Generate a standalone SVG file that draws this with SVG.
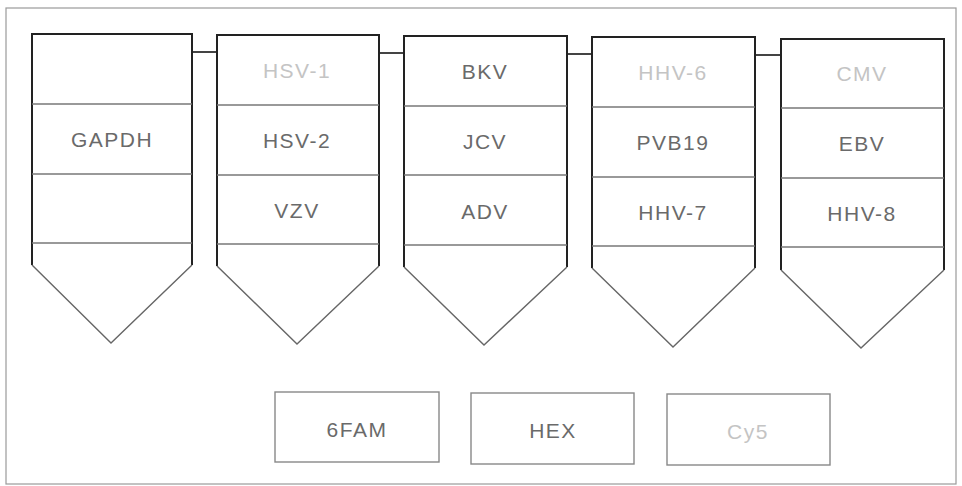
<svg xmlns="http://www.w3.org/2000/svg" width="962" height="486" viewBox="0 0 962 486">
<style>
.frame{fill:none;stroke:#9a9a9a;stroke-width:1.2}
.side{fill:none;stroke:#222;stroke-width:2}
.div{fill:none;stroke:#777;stroke-width:1.3}
.vee{fill:none;stroke:#666;stroke-width:1.4}
.box{fill:#fff;stroke:#888;stroke-width:1.4}
.conn{fill:none;stroke:#444;stroke-width:2}
text{font-family:"Liberation Sans",Arial,sans-serif;font-size:21px;letter-spacing:1.5px;text-anchor:middle;fill:#6a6a6a}
text.faint{fill:#c4c4c4}
</style>
<rect width="962" height="486" fill="#fff"/>
<rect class="frame" x="6" y="8" width="950" height="476"/>
<g id="connectors">
<line class="conn" x1="192" y1="52" x2="217" y2="52"/>
<line class="conn" x1="379" y1="53" x2="404" y2="53"/>
<line class="conn" x1="567" y1="54" x2="592" y2="54"/>
<line class="conn" x1="755" y1="55" x2="781" y2="55"/>
</g>
<g id="col1">
<path class="side" d="M32,265 V34 H192 V265"/>
<line class="div" x1="32" y1="104" x2="192" y2="104"/>
<line class="div" x1="32" y1="174" x2="192" y2="174"/>
<line class="div" x1="32" y1="243" x2="192" y2="243"/>
<path class="vee" d="M32,265 L111,343 L192,265"/>
<text x="112" y="147">GAPDH</text>
</g>
<g id="col2">
<path class="side" d="M217,266 V35 H379 V266"/>
<line class="div" x1="217" y1="105" x2="379" y2="105"/>
<line class="div" x1="217" y1="175" x2="379" y2="175"/>
<line class="div" x1="217" y1="244" x2="379" y2="244"/>
<path class="vee" d="M217,266 L297,344 L379,266"/>
<text class="faint" x="297" y="78">HSV-1</text>
<text x="297" y="148">HSV-2</text>
<text x="297" y="218">VZV</text>
</g>
<g id="col3">
<path class="side" d="M404,267 V36 H567 V267"/>
<line class="div" x1="404" y1="106" x2="567" y2="106"/>
<line class="div" x1="404" y1="175" x2="567" y2="175"/>
<line class="div" x1="404" y1="245" x2="567" y2="245"/>
<path class="vee" d="M404,267 L484,345 L567,267"/>
<text x="485" y="79">BKV</text>
<text x="485" y="149">JCV</text>
<text x="485" y="219">ADV</text>
</g>
<g id="col4">
<path class="side" d="M592,268 V37 H755 V268"/>
<line class="div" x1="592" y1="107" x2="755" y2="107"/>
<line class="div" x1="592" y1="177" x2="755" y2="177"/>
<line class="div" x1="592" y1="246" x2="755" y2="246"/>
<path class="vee" d="M592,268 L673,347 L755,268"/>
<text class="faint" x="673" y="80">HHV-6</text>
<text x="673" y="150">PVB19</text>
<text x="673" y="220">HHV-7</text>
</g>
<g id="col5">
<path class="side" d="M781,270 V39 H944 V270"/>
<line class="div" x1="781" y1="108" x2="944" y2="108"/>
<line class="div" x1="781" y1="178" x2="944" y2="178"/>
<line class="div" x1="781" y1="247" x2="944" y2="247"/>
<path class="vee" d="M781,270 L861,348 L944,270"/>
<text class="faint" x="862" y="81">CMV</text>
<text x="862" y="151">EBV</text>
<text x="862" y="221">HHV-8</text>
</g>
<g id="dye-6fam">
<rect class="box" x="275" y="392" width="164" height="70"/>
<text x="357" y="437">6FAM</text>
</g>
<g id="dye-hex">
<rect class="box" x="471" y="393" width="163" height="71"/>
<text x="553" y="438">HEX</text>
</g>
<g id="dye-cy5">
<rect class="box" x="667" y="394" width="163" height="71"/>
<text class="faint" x="748" y="439">Cy5</text>
</g>
</svg>
